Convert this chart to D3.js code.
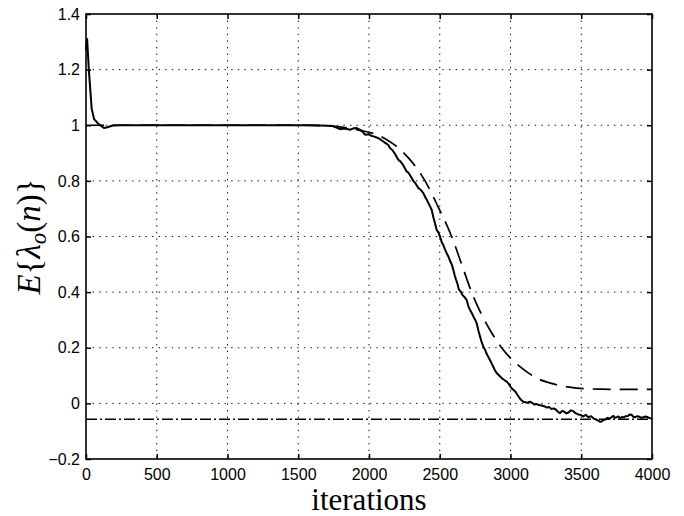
<!DOCTYPE html>
<html><head><meta charset="utf-8">
<script src="https://cdn.jsdelivr.net/npm/d3@7"></script>
<style>body{margin:0;background:#fff}svg{display:block}</style>
</head><body>
<svg id="c" width="684" height="516"></svg>
<script>
const xTicks=[0,500,1000,1500,2000,2500,3000,3500,4000];
const xTickLabels=["0","500","1000","1500","2000","2500","3000","3500","4000"];
const yTicks=[-0.2,0,0.2,0.4,0.6,0.8,1,1.2,1.4];
const yTickLabels=["\u22120.2","0","0.2","0.4","0.6","0.8","1","1.2","1.4"];
const xLabel="iterations";

// simulated learning curve (solid)
const solidN=[0,8,20,40,57,75,99,127,150,190,250,600,1000,1400,1600,1700,1745,1770,1795,1830,1866,1890,1913,1948,1972,2000,2015,2032,2060,2075,2091,2120,2135,2148,2165,2180,2207,2222,2240,2266,2278,2290,2313,2330,2349,2366,2384,2398,2410,2428,2443,2455,2465,2478,2490,2502,2515,2525,2538,2549,2562,2575,2586,2596,2606,2615,2625,2635,2648,2660,2675,2690,2702,2714,2728,2740,2750,2761,2773,2785,2797,2808,2820,2830,2842,2855,2868,2880,2891,2902,2920,2940,2956,2973,2988,3000,3010,3020,3035,3050,3070,3090,3105,3120,3135,3150,3168,3185,3200,3220,3238,3256,3272,3290,3305,3320,3335,3350,3365,3380,3395,3410,3427,3444,3462,3480,3498,3515,3532,3550,3570,3590,3605,3620,3632,3644,3657,3670,3685,3700,3714,3727,3738,3750,3762,3774,3787,3800,3815,3830,3843,3856,3868,3880,3895,3910,3924,3938,3954,3970,3985,4000];
const solidV=[1.27,1.31,1.2,1.06,1.022,1.012,1.0,0.99,0.993,0.999,1.0,1.0,1.0,1.0,1.0,0.998,0.997,0.992,0.986,0.988,0.984,0.989,0.99,0.981,0.966,0.968,0.962,0.96,0.955,0.951,0.945,0.935,0.93,0.918,0.911,0.9,0.876,0.87,0.858,0.834,0.83,0.82,0.8,0.79,0.774,0.768,0.756,0.741,0.73,0.712,0.696,0.668,0.65,0.624,0.615,0.6,0.578,0.57,0.552,0.54,0.527,0.51,0.498,0.48,0.46,0.445,0.43,0.41,0.402,0.39,0.382,0.372,0.35,0.336,0.323,0.31,0.301,0.288,0.262,0.24,0.219,0.204,0.193,0.18,0.168,0.156,0.142,0.13,0.118,0.109,0.1,0.09,0.084,0.078,0.07,0.06,0.053,0.049,0.042,0.03,0.015,0.006,0.004,0.002,0.006,0.003,-0.004,-0.002,-0.006,-0.008,-0.01,-0.015,-0.013,-0.02,-0.018,-0.022,-0.03,-0.035,-0.027,-0.03,-0.036,-0.033,-0.025,-0.028,-0.036,-0.04,-0.042,-0.047,-0.041,-0.05,-0.046,-0.055,-0.058,-0.062,-0.066,-0.065,-0.06,-0.058,-0.052,-0.055,-0.05,-0.045,-0.052,-0.05,-0.047,-0.053,-0.049,-0.05,-0.046,-0.045,-0.04,-0.041,-0.048,-0.05,-0.046,-0.048,-0.052,-0.05,-0.047,-0.05,-0.053,-0.055];

// theoretical curve (dashed)
const theoryN=[0,1000,1500,1700,1850,1950,2042,2120,2195,2300,2396,2490,2584,2655,2725,2790,2855,2937,3000,3067,3185,3326,3468,3633,3800,4000];
const theoryV=[1,1,1,0.998,0.99,0.98,0.969,0.95,0.924,0.87,0.8,0.705,0.6,0.5,0.4,0.325,0.264,0.2,0.163,0.132,0.091,0.067,0.055,0.051,0.05,0.05];

// steady-state level (dash-dot)
const steadyN=[0,4000];
const steadyV=[-0.057,-0.057];

const svg=d3.select("#c");
svg.append("rect").attr("width",684).attr("height",516).attr("fill","#fff");
const L=86,R=652,T=14,B=459;
const x=d3.scaleLinear().domain([0,4000]).range([L,R]);
const y=d3.scaleLinear().domain([-0.2,1.4]).range([B,T]);

// grid
const g=svg.append("g");
g.selectAll(".gx").data(xTicks.slice(1,-1)).enter().append("line")
 .attr("x1",d=>x(d)).attr("x2",d=>x(d)).attr("y1",T).attr("y2",B)
 .attr("stroke","#111").attr("stroke-width",1).attr("stroke-dasharray","1.4,5.2");
g.selectAll(".gy").data(yTicks.slice(1,-1)).enter().append("line")
 .attr("y1",d=>y(d)).attr("y2",d=>y(d)).attr("x1",L).attr("x2",R)
 .attr("stroke","#111").attr("stroke-width",1).attr("stroke-dasharray","1.4,5.2");

const line=d3.line().x(d=>x(d[0])).y(d=>y(d[1]));
svg.append("path").datum(steadyN.map((n,i)=>[n,steadyV[i]])).attr("d",line)
 .attr("fill","none").attr("stroke","#000").attr("stroke-width",1.5).attr("stroke-dasharray","11,3,2,3");
svg.append("path").datum(theoryN.map((n,i)=>[n,theoryV[i]])).attr("d",d3.line().x(d=>x(d[0])).y(d=>y(d[1])).curve(d3.curveMonotoneX))
 .attr("fill","none").attr("stroke","#000").attr("stroke-width",1.7).attr("stroke-dasharray","18,9");
svg.append("path").datum(solidN.map((n,i)=>[n,solidV[i]])).attr("d",line)
 .attr("fill","none").attr("stroke","#000").attr("stroke-width",2).attr("stroke-linejoin","round");

// axes with inward ticks on all sides
const fmtX=(d,i)=>xTickLabels[i], fmtY=(d,i)=>yTickLabels[i];
const ax=[
 svg.append("g").attr("transform",`translate(0,${B})`).call(d3.axisBottom(x).tickValues(xTicks).tickFormat(fmtX).tickSizeInner(-5).tickSizeOuter(0).tickPadding(10)),
 svg.append("g").attr("transform",`translate(0,${T})`).call(d3.axisTop(x).tickValues(xTicks).tickFormat("").tickSizeInner(-5).tickSizeOuter(0)),
 svg.append("g").attr("transform",`translate(${L},0)`).call(d3.axisLeft(y).tickValues(yTicks).tickFormat(fmtY).tickSizeInner(-5).tickSizeOuter(0).tickPadding(6)),
 svg.append("g").attr("transform",`translate(${R},0)`).call(d3.axisRight(y).tickValues(yTicks).tickFormat("").tickSizeInner(-5).tickSizeOuter(0))
];
ax.forEach(a=>{
 a.select(".domain").remove();
 a.selectAll(".tick line").attr("stroke","#000").attr("stroke-width",1.5);
 a.selectAll("text").attr("font-family","'Liberation Sans',Arial,sans-serif").attr("font-size",16).attr("fill","#000");
});
svg.append("rect").attr("x",L).attr("y",T).attr("width",R-L).attr("height",B-T)
 .attr("fill","none").attr("stroke","#000").attr("stroke-width",1.6);

// x label
svg.append("text").attr("x",(L+R)/2).attr("y",510).attr("text-anchor","middle")
 .attr("font-family","'Liberation Serif','Times New Roman',serif").attr("font-size",31).attr("fill","#000").text(xLabel);

// y label E{λ_o(n)}
const yl=svg.append("text").attr("transform",`translate(40,${(T+B)/2}) rotate(-90)`).attr("text-anchor","middle")
 .attr("font-family","'Liberation Serif','Times New Roman',serif").attr("font-size",33).attr("fill","#000");
yl.append("tspan").attr("font-style","italic").text("E");
yl.append("tspan").text("{");
yl.append("tspan").attr("font-style","italic").text("λ");
yl.append("tspan").attr("font-style","italic").attr("font-size",23).attr("dy",6).text("o");
yl.append("tspan").attr("dy",-6).text("(");
yl.append("tspan").attr("font-style","italic").text("n");
yl.append("tspan").text(")}");
</script>
</body></html>
